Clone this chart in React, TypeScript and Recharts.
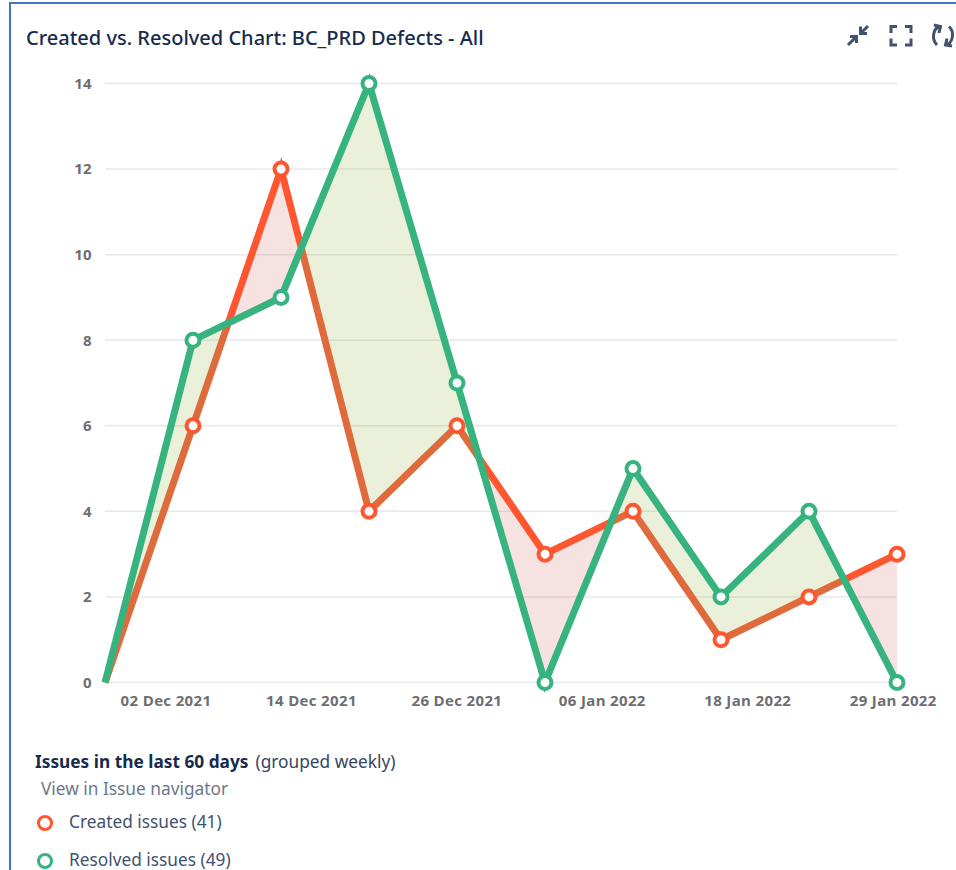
import React from 'react';
import { ComposedChart, Area, Line, XAxis, YAxis, CartesianGrid } from 'recharts';

// days since the first weekly bucket
const weekDays = [0, 7, 14, 21, 28, 35, 42, 49, 56, 63];
const createdIssues = [0, 6, 12, 4, 6, 3, 4, 1, 2, 3];
const resolvedIssues = [0, 8, 9, 14, 7, 0, 5, 2, 4, 0];

const tickDays = [4.85, 16.42, 27.99, 39.56, 51.13, 62.7];
const tickLabels = ['02 Dec 2021', '14 Dec 2021', '26 Dec 2021', '06 Jan 2022', '18 Jan 2022', '29 Jan 2022'];
const yTicks = [0, 2, 4, 6, 8, 10, 12, 14];

const RED = '#FF5630';
const RED_MUTED = '#DF6A3C';
const GREEN = '#36B37E';
const RED_FILL = 'rgba(200, 60, 50, 0.15)';
const GREEN_FILL = 'rgba(125, 160, 20, 0.16)';
const TEXT = '#172B4D';
const FONT = '"Noto Sans", sans-serif';

const tickStyle = { fill: '#6E6E72', fontSize: 15, fontWeight: 700, letterSpacing: 0.35, fontFamily: '"Open Sans", sans-serif' };

const data = weekDays.map((day, i) => ({
  day,
  created: createdIssues[i],
  resolved: resolvedIssues[i],
  range: [createdIssues[i], resolvedIssues[i]],
}));

// hard colour stops along x, switching where the two lines cross
function buildStops(resolvedAhead: string, createdAhead: string) {
  const stops: { offset: number; color: string }[] = [];
  const total = weekDays[weekDays.length - 1];
  const pick = (d: number) => (d > 0 ? resolvedAhead : createdAhead);
  for (let i = 0; i < weekDays.length - 1; i++) {
    const d0 = resolvedIssues[i] - createdIssues[i];
    const d1 = resolvedIssues[i + 1] - createdIssues[i + 1];
    const from = weekDays[i] / total;
    const to = weekDays[i + 1] / total;
    if (d0 * d1 < 0) {
      const mid = from + (to - from) * (d0 / (d0 - d1));
      stops.push({ offset: from, color: pick(d0) });
      stops.push({ offset: mid, color: pick(d0) });
      stops.push({ offset: mid, color: pick(d1) });
      stops.push({ offset: to, color: pick(d1) });
    } else {
      stops.push({ offset: from, color: pick(d0 + d1) });
      stops.push({ offset: to, color: pick(d0 + d1) });
    }
  }
  return stops;
}

function ringDot(color: string) {
  return (props: any) => {
    if (props.index === 0) return <g key={props.key} />;
    return <circle key={props.key} cx={props.cx} cy={props.cy} r={6.5} fill="#fff" stroke={color} strokeWidth={4} />;
  };
}

function formatTick(value: number) {
  return tickLabels[tickDays.indexOf(value)] ?? '';
}

function Icons() {
  return (
    <svg width={956} height={60} style={{ position: 'absolute', left: 0, top: 0 }}>
      <g fill="none" stroke="#42526E" strokeWidth={3}>
        <path d="M848 45 L856 37 M850 36.5 H856.5 V43" />
        <path d="M868 26 L861 33 M860.5 26.5 V33.5 H867" />
        <path d="M897 26.5 H891 V33 M905 26.5 H911 V33 M897 45 H891 V38.5 M905 45 H911 V38.5" />
        <path d="M941 26.5 C933 27 931 39 937 45 M934 25 L940.5 26.5 L939 33" />
        <path d="M945 45 C953 44 955 32 949 26.5 M952 46 L945.5 45 L947 38.5" />
      </g>
    </svg>
  );
}

const legendRow: React.CSSProperties = { position: 'absolute', left: 69, fontSize: 17.3, color: '#42526E', lineHeight: '22px', whiteSpace: 'nowrap' };

function LegendDot({ color, top }: { color: string; top: number }) {
  return (
    <div style={{
      position: 'absolute',
      left: 37,
      top,
      width: 10,
      height: 10,
      borderRadius: '50%',
      border: `3.5px solid ${color}`,
      background: '#fff',
    }} />
  );
}

export default function App() {
  const fillStops = buildStops(GREEN_FILL, RED_FILL);
  const lineStops = buildStops(RED_MUTED, RED);
  return (
    <div style={{ position: 'absolute', left: 0, top: 0, width: 956, height: 870, overflow: 'hidden', background: '#fff', fontFamily: FONT }}>
      <div style={{ position: 'absolute', left: 9, top: 2, width: 960, height: 900, borderLeft: '2px solid #4472C4', borderTop: '2px solid #4472C4' }} />
      <div style={{ position: 'absolute', left: 26, top: 25, fontSize: 20, fontWeight: 500, color: TEXT, lineHeight: '26px', whiteSpace: 'nowrap' }}>
        Created vs. Resolved Chart: BC_PRD Defects - All
      </div>
      <Icons />
      <div style={{ position: 'absolute', left: 0, top: 0 }}>
        <ComposedChart width={956} height={870} data={data} margin={{ top: 83.5, right: 59, bottom: 157.5, left: 65 }}>
          <defs>
            <linearGradient id="gapFill" x1="0" y1="0" x2="1" y2="0">
              {fillStops.map((s, i) => (
                <stop key={i} offset={s.offset} stopColor={s.color} />
              ))}
            </linearGradient>
            <linearGradient id="createdStroke" x1="0" y1="0" x2="1" y2="0">
              {lineStops.map((s, i) => (
                <stop key={i} offset={s.offset} stopColor={s.color} />
              ))}
            </linearGradient>
          </defs>
          <CartesianGrid vertical={false} stroke="#E7E8EE" strokeWidth={1.5} />
          <XAxis
            dataKey="day"
            type="number"
            domain={[0, 63]}
            ticks={tickDays}
            tickFormatter={formatTick}
            interval={0}
            height={30}
            axisLine={false}
            tickLine={false}
            tickMargin={7}
            tick={tickStyle}
          />
          <YAxis
            domain={[0, 14]}
            ticks={yTicks}
            interval={0}
            width={40}
            axisLine={false}
            tickLine={false}
            tickMargin={7}
            tick={tickStyle}
          />
          <Area dataKey="range" type="linear" stroke="none" fill="url(#gapFill)" fillOpacity={1} dot={false} activeDot={false} isAnimationActive={false} />
          <Line dataKey="created" type="linear" stroke="url(#createdStroke)" strokeWidth={7} dot={ringDot(RED)} activeDot={false} isAnimationActive={false} />
          <Line dataKey="resolved" type="linear" stroke={GREEN} strokeWidth={7} dot={ringDot(GREEN)} activeDot={false} isAnimationActive={false} />
        </ComposedChart>
      </div>
      <div style={{ position: 'absolute', left: 35, top: 751, fontSize: 17.3, color: '#344563', lineHeight: '22px', whiteSpace: 'nowrap' }}>
        <span style={{ fontWeight: 700, color: TEXT }}>Issues in the last 60 days</span>
        <span style={{ marginLeft: 7 }}>(grouped weekly)</span>
      </div>
      <div style={{ position: 'absolute', left: 41, top: 778, fontSize: 17.3, color: '#6B778C', lineHeight: '22px', whiteSpace: 'nowrap' }}>
        View in Issue navigator
      </div>
      <LegendDot color={RED} top={815} />
      <div style={{ ...legendRow, top: 811 }}>Created issues (41)</div>
      <LegendDot color={GREEN} top={853} />
      <div style={{ ...legendRow, top: 849 }}>Resolved issues (49)</div>
    </div>
  );
}
